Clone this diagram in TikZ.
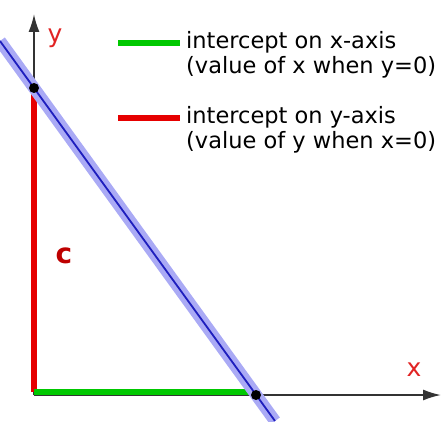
\documentclass[tikz,border=0pt]{standalone}
\usepackage{fontspec}
\setmainfont{DejaVu Sans}
\usetikzlibrary{arrows.meta}
\definecolor{lineblue}{RGB}{30,30,190}
\definecolor{bandblue}{RGB}{170,170,245}
\definecolor{icgreen}{RGB}{0,200,0}
\definecolor{icred}{RGB}{230,0,0}
\definecolor{lblred}{RGB}{225,35,35}
\definecolor{cred}{RGB}{190,0,0}
\begin{document}
\begin{tikzpicture}[x=1pt,y=1pt,
  axis/.style={line width=1.8pt,draw=black!80,-{Latex[length=18pt,width=11pt]}},
  icline/.style={line width=5.5pt},
  axlbl/.style={text=lblred,font=\fontsize{25}{25}\selectfont,inner sep=0pt},
  legtext/.style={anchor=west,font=\fontsize{22.5}{24}\selectfont,inner sep=0pt}]
\useasboundingbox (0,0) rectangle (443,421);
\coordinate (O) at (34,26);
\coordinate (ytop) at (34,407);
\coordinate (xtip) at (441,26);
\coordinate (yint) at (34,333);
\coordinate (xint) at (256,26);
\coordinate (ls) at (0,380);
\coordinate (le) at (275,0);
% axes
\draw[axis] (O) -- (ytop);
\draw[axis] (O) -- (xtip);
\node[axlbl] (ylbl) at (55,383) {y};
\node[axlbl] (xlbl) at (414,51) {x};
% intercepts
\draw[icline,icred] (34,29) -- (yint);
\draw[icline,icgreen] (34,29) -- (252,29);
\node[text=cred,font=\bfseries\fontsize{28}{28}\selectfont,inner sep=0pt] (clbl) at (64,165) {c};
% the line
\draw[line width=12pt,bandblue] (ls) -- (le);
\draw[line width=1.8pt,lineblue] (ls) -- (le);
\fill (yint) circle (5);
\fill (xint) circle (5);
% legend
\draw[icline,icgreen] (118,378) -- (180,378);
\node[legtext] (legx1) at (186,379) {intercept on x-axis};
\node[legtext] (legx2) at (186,354) {(value of x when y=0)};
\draw[icline,icred] (118,303) -- (180,303);
\node[legtext] (legy1) at (186,304) {intercept on y-axis};
\node[legtext] (legy2) at (186,279) {(value of y when x=0)};
\end{tikzpicture}
\end{document}
